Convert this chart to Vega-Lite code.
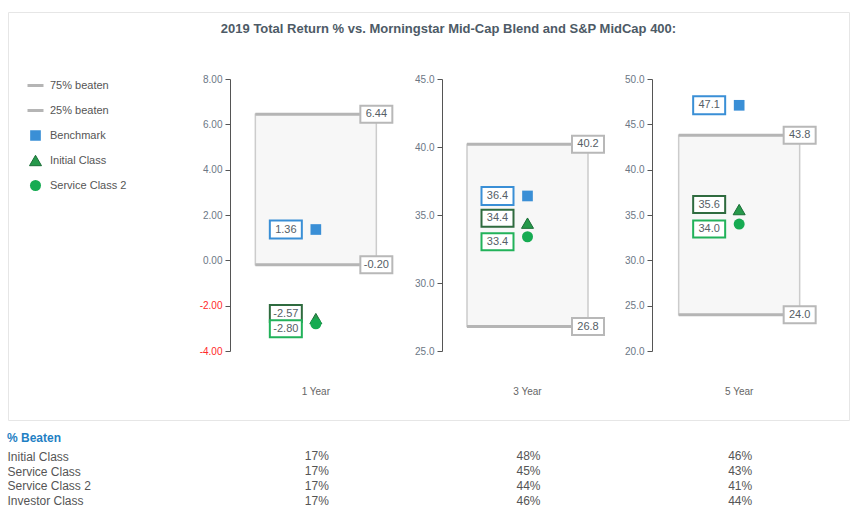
{
  "$schema": "https://vega.github.io/schema/vega-lite/v6.json",
  "background": "white",
  "padding": {"left": 7, "top": 11, "right": 0, "bottom": 0},
  "spacing": 11,
  "config": {
    "font": "Liberation Sans",
    "locale": {"number": {"decimal": ".", "thousands": ",", "grouping": [3], "currency": ["$", ""], "minus": "-"}},
    "axis": {"grid": false},
    "legend": {"title": null, "orient": "none", "legendX": 18, "legendY": 62, "labelFontSize": 11, "labelColor": "#555555", "rowPadding": 2, "clipHeight": 23, "labelOffset": 5, "symbolOpacity": 1}
  },
  "vconcat": [
    {
      "width": 841,
      "height": 408,
      "view": {"stroke": "#e6e6e6", "strokeWidth": 1},
      "title": {"text": "2019 Total Return % vs. Morningstar Mid-Cap Blend and S&P MidCap 400:", "anchor": "middle", "dx": 20, "offset": -24, "fontSize": 13, "fontWeight": "bold", "color": "#4d5a66"},
      "encoding": {
        "x": {"field": "period", "type": "nominal",
          "scale": {"domain": ["1 Year", "3 Year", "5 Year"], "range": [202, 837], "paddingInner": 0, "paddingOuter": 0},
          "axis": {"orient": "bottom", "offset": -29, "domain": false, "ticks": false, "labelPadding": 0, "labelBaseline": "middle", "labelAngle": 0, "labelFontSize": 10, "labelColor": "#666666", "title": null}}
      },
      "resolve": {"scale": {"y": "independent"}, "axis": {"y": "independent"}},
      "layer": [
        {
          "data": {"values": [{"period": "1 Year", "p75": 6.44, "p25": -0.2, "Benchmark": 1.36, "Initial Class": -2.57, "Service Class 2": -2.8}]},
          "layer": [
            {"mark": {"type": "bar", "width": 121, "fill": "#f7f7f7", "stroke": "#cccccc", "strokeWidth": 1.5},
             "encoding": {"y": {"field": "p75", "type": "quantitative",
               "scale": {"domain": [-4, 8], "range": [339, 67], "nice": false, "zero": false},
               "axis": {"orient": "left", "offset": -222, "values": [-4, -2, 0, 2, 4, 6, 8], "format": ".2f", "title": null, "tickSize": 5, "tickColor": "#555555", "domainColor": "#555555", "labelPadding": 3, "labelFontSize": 10,
                 "labelColor": {"condition": {"test": "datum.value < 0", "value": "#ff2a2a"}, "value": "#6b7785"}}},
               "y2": {"field": "p25"}}},
            {"mark": {"type": "tick", "thickness": 3, "size": 121, "opacity": 1},
             "encoding": {"y": {"field": "p75", "type": "quantitative"},
               "color": {"datum": "75% beaten", "scale": {"type": "ordinal", "domain": ["75% beaten", "25% beaten", "Benchmark", "Initial Class", "Service Class 2"], "range": ["#b5b5b5", "#b5b5b5", "#3a8fd6", "#26994b", "#16ab52"]}}}},
            {"mark": {"type": "tick", "thickness": 3, "size": 121, "opacity": 1},
             "encoding": {"y": {"field": "p25", "type": "quantitative"}, "color": {"datum": "25% beaten", "scale": {"type": "ordinal", "domain": ["75% beaten", "25% beaten", "Benchmark", "Initial Class", "Service Class 2"], "range": ["#b5b5b5", "#b5b5b5", "#3a8fd6", "#26994b", "#16ab52"]}}}},
            {"mark": {"type": "point", "shape": "M2.225,-0.425H3.825V0.425H2.225Z", "size": 1600, "filled": true, "fill": "white", "stroke": "#b8b8b8", "strokeWidth": 2, "opacity": 1},
             "encoding": {"y": {"field": "p75", "type": "quantitative"}}},
            {"mark": {"type": "point", "shape": "M2.225,-0.425H3.825V0.425H2.225Z", "size": 1600, "filled": true, "fill": "white", "stroke": "#b8b8b8", "strokeWidth": 2, "opacity": 1},
             "encoding": {"y": {"field": "p25", "type": "quantitative"}}},
            {"mark": {"type": "text", "dx": 60.5, "fontSize": 11, "color": "#555e66", "baseline": "middle"},
             "encoding": {"y": {"field": "p75", "type": "quantitative"}, "text": {"field": "p75", "format": ".2f"}}},
            {"mark": {"type": "text", "dx": 60.5, "fontSize": 11, "color": "#555e66", "baseline": "middle"},
             "encoding": {"y": {"field": "p25", "type": "quantitative"}, "text": {"field": "p25", "format": ".2f"}}},
            {"transform": [{"fold": ["Benchmark", "Initial Class", "Service Class 2"], "as": ["series", "val"]}],
             "mark": {"type": "point", "filled": true, "opacity": 1},
             "encoding": {"y": {"field": "val", "type": "quantitative"},
               "color": {"field": "series", "type": "nominal", "scale": {"type": "ordinal", "domain": ["75% beaten", "25% beaten", "Benchmark", "Initial Class", "Service Class 2"], "range": ["#b5b5b5", "#b5b5b5", "#3a8fd6", "#26994b", "#16ab52"]}},
               "shape": {"field": "series", "type": "nominal", "scale": {"type": "ordinal", "domain": ["75% beaten", "25% beaten", "Benchmark", "Initial Class", "Service Class 2"], "range": ["stroke", "stroke", "square", "triangle-up", "circle"]}},
               "size": {"field": "series", "type": "nominal", "scale": {"type": "ordinal", "domain": ["75% beaten", "25% beaten", "Benchmark", "Initial Class", "Service Class 2"], "range": [256, 256, 114, 144, 121]}},
               "stroke": {"field": "series", "type": "nominal", "scale": {"type": "ordinal", "domain": ["75% beaten", "25% beaten", "Benchmark", "Initial Class", "Service Class 2"], "range": ["#b5b5b5", "#b5b5b5", "#3a8fd6", "#1b6e37", "#16ab52"]}},
               "strokeWidth": {"field": "series", "type": "nominal", "scale": {"type": "ordinal", "domain": ["75% beaten", "25% beaten", "Benchmark", "Initial Class", "Service Class 2"], "range": [3, 3, 0, 1, 0]}}}},
            {"mark": {"type": "point", "shape": "M-2.3,-0.45H-0.7V0.45H-2.3Z", "size": 1600, "filled": true, "fill": "white", "stroke": "#3a8fd6", "strokeWidth": 2, "opacity": 1},
             "encoding": {"y": {"field": "Benchmark", "type": "quantitative"}}},
            {"mark": {"type": "point", "shape": "M-2.3,-0.675H-0.7V0.175H-2.3Z", "size": 1600, "filled": true, "fill": "white", "stroke": "#2f6b3f", "strokeWidth": 2, "opacity": 1},
             "encoding": {"y": {"field": "Initial Class", "type": "quantitative"}}},
            {"mark": {"type": "point", "shape": "M-2.3,-0.175H-0.7V0.675H-2.3Z", "size": 1600, "filled": true, "fill": "white", "stroke": "#22b25a", "strokeWidth": 2, "opacity": 1},
             "encoding": {"y": {"field": "Service Class 2", "type": "quantitative"}}},
            {"mark": {"type": "text", "dx": -30, "fontSize": 11, "color": "#555e66", "baseline": "middle"},
             "encoding": {"y": {"field": "Benchmark", "type": "quantitative"}, "text": {"field": "Benchmark", "format": ".2f"}}},
            {"mark": {"type": "text", "dx": -30, "dy": -5, "fontSize": 11, "color": "#555e66", "baseline": "middle"},
             "encoding": {"y": {"field": "Initial Class", "type": "quantitative"}, "text": {"field": "Initial Class", "format": ".2f"}}},
            {"mark": {"type": "text", "dx": -30, "dy": 5, "fontSize": 11, "color": "#555e66", "baseline": "middle"},
             "encoding": {"y": {"field": "Service Class 2", "type": "quantitative"}, "text": {"field": "Service Class 2", "format": ".2f"}}}
          ]
        },
        {
          "data": {"values": [{"period": "3 Year", "p75": 40.2, "p25": 26.8, "Benchmark": 36.4, "Initial Class": 34.4, "Service Class 2": 33.4}]},
          "layer": [
            {"mark": {"type": "bar", "width": 121, "fill": "#f7f7f7", "stroke": "#cccccc", "strokeWidth": 1.5},
             "encoding": {"y": {"field": "p75", "type": "quantitative",
               "scale": {"domain": [25, 45], "range": [339, 67], "nice": false, "zero": false},
               "axis": {"orient": "left", "offset": -434, "values": [25, 30, 35, 40, 45], "format": ".1f", "title": null, "tickSize": 5, "tickColor": "#555555", "domainColor": "#555555", "labelPadding": 3, "labelFontSize": 10, "labelColor": "#6b7785"}},
               "y2": {"field": "p25"}}},
            {"mark": {"type": "tick", "thickness": 3, "size": 121, "opacity": 1},
             "encoding": {"y": {"field": "p75", "type": "quantitative"}, "color": {"datum": "75% beaten", "scale": {"type": "ordinal", "domain": ["75% beaten", "25% beaten", "Benchmark", "Initial Class", "Service Class 2"], "range": ["#b5b5b5", "#b5b5b5", "#3a8fd6", "#26994b", "#16ab52"]}}}},
            {"mark": {"type": "tick", "thickness": 3, "size": 121, "opacity": 1},
             "encoding": {"y": {"field": "p25", "type": "quantitative"}, "color": {"datum": "25% beaten", "scale": {"type": "ordinal", "domain": ["75% beaten", "25% beaten", "Benchmark", "Initial Class", "Service Class 2"], "range": ["#b5b5b5", "#b5b5b5", "#3a8fd6", "#26994b", "#16ab52"]}}}},
            {"mark": {"type": "point", "shape": "M2.225,-0.425H3.825V0.425H2.225Z", "size": 1600, "filled": true, "fill": "white", "stroke": "#b8b8b8", "strokeWidth": 2, "opacity": 1},
             "encoding": {"y": {"field": "p75", "type": "quantitative"}}},
            {"mark": {"type": "point", "shape": "M2.225,-0.425H3.825V0.425H2.225Z", "size": 1600, "filled": true, "fill": "white", "stroke": "#b8b8b8", "strokeWidth": 2, "opacity": 1},
             "encoding": {"y": {"field": "p25", "type": "quantitative"}}},
            {"mark": {"type": "text", "dx": 60.5, "fontSize": 11, "color": "#555e66", "baseline": "middle"},
             "encoding": {"y": {"field": "p75", "type": "quantitative"}, "text": {"field": "p75", "format": ".1f"}}},
            {"mark": {"type": "text", "dx": 60.5, "fontSize": 11, "color": "#555e66", "baseline": "middle"},
             "encoding": {"y": {"field": "p25", "type": "quantitative"}, "text": {"field": "p25", "format": ".1f"}}},
            {"transform": [{"fold": ["Benchmark", "Initial Class", "Service Class 2"], "as": ["series", "val"]}],
             "mark": {"type": "point", "filled": true, "opacity": 1},
             "encoding": {"y": {"field": "val", "type": "quantitative"},
               "color": {"field": "series", "type": "nominal", "scale": {"type": "ordinal", "domain": ["75% beaten", "25% beaten", "Benchmark", "Initial Class", "Service Class 2"], "range": ["#b5b5b5", "#b5b5b5", "#3a8fd6", "#26994b", "#16ab52"]}},
               "shape": {"field": "series", "type": "nominal", "scale": {"type": "ordinal", "domain": ["75% beaten", "25% beaten", "Benchmark", "Initial Class", "Service Class 2"], "range": ["stroke", "stroke", "square", "triangle-up", "circle"]}},
               "size": {"field": "series", "type": "nominal", "scale": {"type": "ordinal", "domain": ["75% beaten", "25% beaten", "Benchmark", "Initial Class", "Service Class 2"], "range": [256, 256, 114, 144, 121]}},
               "stroke": {"field": "series", "type": "nominal", "scale": {"type": "ordinal", "domain": ["75% beaten", "25% beaten", "Benchmark", "Initial Class", "Service Class 2"], "range": ["#b5b5b5", "#b5b5b5", "#3a8fd6", "#1b6e37", "#16ab52"]}},
               "strokeWidth": {"field": "series", "type": "nominal", "scale": {"type": "ordinal", "domain": ["75% beaten", "25% beaten", "Benchmark", "Initial Class", "Service Class 2"], "range": [3, 3, 0, 1, 0]}}}},
            {"mark": {"type": "point", "shape": "M-2.3,-0.45H-0.7V0.45H-2.3Z", "size": 1600, "filled": true, "fill": "white", "stroke": "#3a8fd6", "strokeWidth": 2, "opacity": 1},
             "encoding": {"y": {"field": "Benchmark", "type": "quantitative"}}},
            {"mark": {"type": "point", "shape": "M-2.3,-0.675H-0.7V0.175H-2.3Z", "size": 1600, "filled": true, "fill": "white", "stroke": "#2f6b3f", "strokeWidth": 2, "opacity": 1},
             "encoding": {"y": {"field": "Initial Class", "type": "quantitative"}}},
            {"mark": {"type": "point", "shape": "M-2.3,-0.175H-0.7V0.675H-2.3Z", "size": 1600, "filled": true, "fill": "white", "stroke": "#22b25a", "strokeWidth": 2, "opacity": 1},
             "encoding": {"y": {"field": "Service Class 2", "type": "quantitative"}}},
            {"mark": {"type": "text", "dx": -30, "fontSize": 11, "color": "#555e66", "baseline": "middle"},
             "encoding": {"y": {"field": "Benchmark", "type": "quantitative"}, "text": {"field": "Benchmark", "format": ".1f"}}},
            {"mark": {"type": "text", "dx": -30, "dy": -5, "fontSize": 11, "color": "#555e66", "baseline": "middle"},
             "encoding": {"y": {"field": "Initial Class", "type": "quantitative"}, "text": {"field": "Initial Class", "format": ".1f"}}},
            {"mark": {"type": "text", "dx": -30, "dy": 5, "fontSize": 11, "color": "#555e66", "baseline": "middle"},
             "encoding": {"y": {"field": "Service Class 2", "type": "quantitative"}, "text": {"field": "Service Class 2", "format": ".1f"}}}
          ]
        },
        {
          "data": {"values": [{"period": "5 Year", "p75": 43.8, "p25": 24.0, "Benchmark": 47.1, "Initial Class": 35.6, "Service Class 2": 34.0}]},
          "layer": [
            {"mark": {"type": "bar", "width": 121, "fill": "#f7f7f7", "stroke": "#cccccc", "strokeWidth": 1.5},
             "encoding": {"y": {"field": "p75", "type": "quantitative",
               "scale": {"domain": [20, 50], "range": [339, 67], "nice": false, "zero": false},
               "axis": {"orient": "left", "offset": -644, "values": [20, 25, 30, 35, 40, 45, 50], "format": ".1f", "title": null, "tickSize": 5, "tickColor": "#555555", "domainColor": "#555555", "labelPadding": 3, "labelFontSize": 10, "labelColor": "#6b7785"}},
               "y2": {"field": "p25"}}},
            {"mark": {"type": "tick", "thickness": 3, "size": 121, "opacity": 1},
             "encoding": {"y": {"field": "p75", "type": "quantitative"}, "color": {"datum": "75% beaten", "scale": {"type": "ordinal", "domain": ["75% beaten", "25% beaten", "Benchmark", "Initial Class", "Service Class 2"], "range": ["#b5b5b5", "#b5b5b5", "#3a8fd6", "#26994b", "#16ab52"]}}}},
            {"mark": {"type": "tick", "thickness": 3, "size": 121, "opacity": 1},
             "encoding": {"y": {"field": "p25", "type": "quantitative"}, "color": {"datum": "25% beaten", "scale": {"type": "ordinal", "domain": ["75% beaten", "25% beaten", "Benchmark", "Initial Class", "Service Class 2"], "range": ["#b5b5b5", "#b5b5b5", "#3a8fd6", "#26994b", "#16ab52"]}}}},
            {"mark": {"type": "point", "shape": "M2.225,-0.425H3.825V0.425H2.225Z", "size": 1600, "filled": true, "fill": "white", "stroke": "#b8b8b8", "strokeWidth": 2, "opacity": 1},
             "encoding": {"y": {"field": "p75", "type": "quantitative"}}},
            {"mark": {"type": "point", "shape": "M2.225,-0.425H3.825V0.425H2.225Z", "size": 1600, "filled": true, "fill": "white", "stroke": "#b8b8b8", "strokeWidth": 2, "opacity": 1},
             "encoding": {"y": {"field": "p25", "type": "quantitative"}}},
            {"mark": {"type": "text", "dx": 60.5, "fontSize": 11, "color": "#555e66", "baseline": "middle"},
             "encoding": {"y": {"field": "p75", "type": "quantitative"}, "text": {"field": "p75", "format": ".1f"}}},
            {"mark": {"type": "text", "dx": 60.5, "fontSize": 11, "color": "#555e66", "baseline": "middle"},
             "encoding": {"y": {"field": "p25", "type": "quantitative"}, "text": {"field": "p25", "format": ".1f"}}},
            {"transform": [{"fold": ["Benchmark", "Initial Class", "Service Class 2"], "as": ["series", "val"]}],
             "mark": {"type": "point", "filled": true, "opacity": 1},
             "encoding": {"y": {"field": "val", "type": "quantitative"},
               "color": {"field": "series", "type": "nominal", "scale": {"type": "ordinal", "domain": ["75% beaten", "25% beaten", "Benchmark", "Initial Class", "Service Class 2"], "range": ["#b5b5b5", "#b5b5b5", "#3a8fd6", "#26994b", "#16ab52"]}},
               "shape": {"field": "series", "type": "nominal", "scale": {"type": "ordinal", "domain": ["75% beaten", "25% beaten", "Benchmark", "Initial Class", "Service Class 2"], "range": ["stroke", "stroke", "square", "triangle-up", "circle"]}},
               "size": {"field": "series", "type": "nominal", "scale": {"type": "ordinal", "domain": ["75% beaten", "25% beaten", "Benchmark", "Initial Class", "Service Class 2"], "range": [256, 256, 114, 144, 121]}},
               "stroke": {"field": "series", "type": "nominal", "scale": {"type": "ordinal", "domain": ["75% beaten", "25% beaten", "Benchmark", "Initial Class", "Service Class 2"], "range": ["#b5b5b5", "#b5b5b5", "#3a8fd6", "#1b6e37", "#16ab52"]}},
               "strokeWidth": {"field": "series", "type": "nominal", "scale": {"type": "ordinal", "domain": ["75% beaten", "25% beaten", "Benchmark", "Initial Class", "Service Class 2"], "range": [3, 3, 0, 1, 0]}}}},
            {"mark": {"type": "point", "shape": "M-2.3,-0.45H-0.7V0.45H-2.3Z", "size": 1600, "filled": true, "fill": "white", "stroke": "#3a8fd6", "strokeWidth": 2, "opacity": 1},
             "encoding": {"y": {"field": "Benchmark", "type": "quantitative"}}},
            {"mark": {"type": "point", "shape": "M-2.3,-0.675H-0.7V0.175H-2.3Z", "size": 1600, "filled": true, "fill": "white", "stroke": "#2f6b3f", "strokeWidth": 2, "opacity": 1},
             "encoding": {"y": {"field": "Initial Class", "type": "quantitative"}}},
            {"mark": {"type": "point", "shape": "M-2.3,-0.175H-0.7V0.675H-2.3Z", "size": 1600, "filled": true, "fill": "white", "stroke": "#22b25a", "strokeWidth": 2, "opacity": 1},
             "encoding": {"y": {"field": "Service Class 2", "type": "quantitative"}}},
            {"mark": {"type": "text", "dx": -30, "fontSize": 11, "color": "#555e66", "baseline": "middle"},
             "encoding": {"y": {"field": "Benchmark", "type": "quantitative"}, "text": {"field": "Benchmark", "format": ".1f"}}},
            {"mark": {"type": "text", "dx": -30, "dy": -5, "fontSize": 11, "color": "#555e66", "baseline": "middle"},
             "encoding": {"y": {"field": "Initial Class", "type": "quantitative"}, "text": {"field": "Initial Class", "format": ".1f"}}},
            {"mark": {"type": "text", "dx": -30, "dy": 5, "fontSize": 11, "color": "#555e66", "baseline": "middle"},
             "encoding": {"y": {"field": "Service Class 2", "type": "quantitative"}, "text": {"field": "Service Class 2", "format": ".1f"}}}
          ]
        }
      ]
    },
    {
      "width": 841,
      "height": 59,
      "view": {"stroke": null},
      "title": {"text": "% Beaten", "anchor": "start", "fontSize": 12, "fontWeight": "bold", "color": "#1f7fc4", "offset": 4},
      "data": {"values": [
        {"share_class": "Initial Class", "period": "1 Year", "pct": 0.17},
        {"share_class": "Initial Class", "period": "3 Year", "pct": 0.48},
        {"share_class": "Initial Class", "period": "5 Year", "pct": 0.46},
        {"share_class": "Service Class", "period": "1 Year", "pct": 0.17},
        {"share_class": "Service Class", "period": "3 Year", "pct": 0.45},
        {"share_class": "Service Class", "period": "5 Year", "pct": 0.43},
        {"share_class": "Service Class 2", "period": "1 Year", "pct": 0.17},
        {"share_class": "Service Class 2", "period": "3 Year", "pct": 0.44},
        {"share_class": "Service Class 2", "period": "5 Year", "pct": 0.41},
        {"share_class": "Investor Class", "period": "1 Year", "pct": 0.17},
        {"share_class": "Investor Class", "period": "3 Year", "pct": 0.46},
        {"share_class": "Investor Class", "period": "5 Year", "pct": 0.44}
      ]},
      "mark": {"type": "text", "fontSize": 12, "color": "#555555", "baseline": "middle"},
      "encoding": {
        "x": {"field": "period", "type": "nominal", "scale": {"domain": ["1 Year", "3 Year", "5 Year"], "range": [203, 838], "paddingInner": 0, "paddingOuter": 0}, "axis": null},
        "y": {"field": "share_class", "type": "nominal", "scale": {"domain": ["Initial Class", "Service Class", "Service Class 2", "Investor Class"]},
          "axis": {"orient": "left", "title": null, "domain": false, "ticks": false, "labelAlign": "left", "labelPadding": 1, "labelFontSize": 12, "labelColor": "#555555", "labelBaseline": "middle"}},
        "text": {"field": "pct", "format": ".0%"}
      }
    }
  ]
}
